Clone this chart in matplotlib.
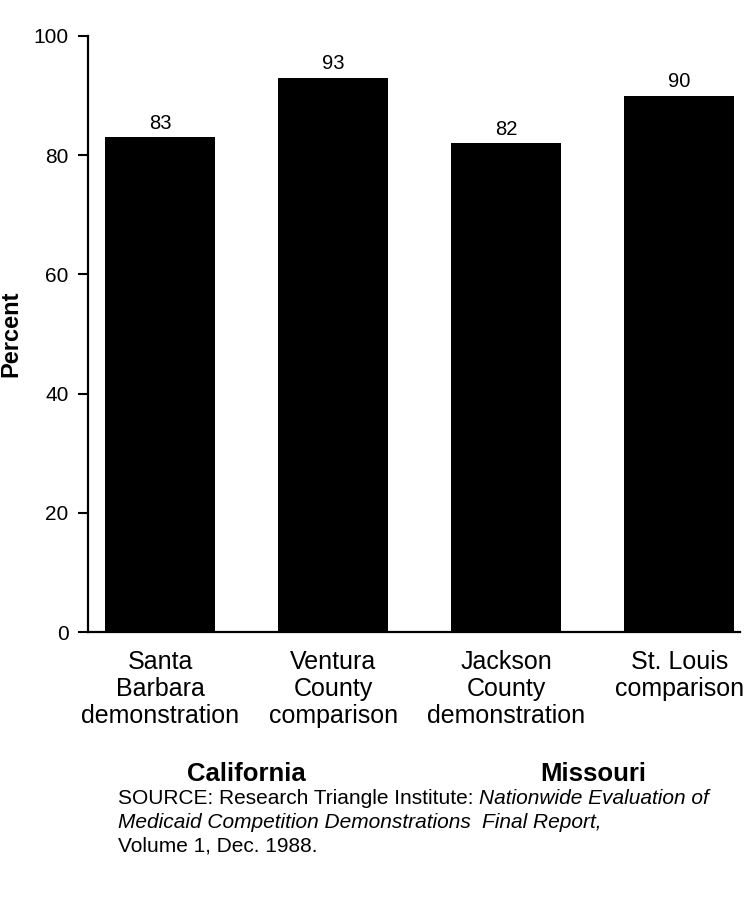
import matplotlib
matplotlib.use("Agg")
import matplotlib.pyplot as plt
import matplotlib.transforms as mtransforms

plt.rcParams['font.family'] = ['Liberation Sans', 'DejaVu Sans']

# Данные
categories = ["Santa\nBarbara\ndemonstration", "Ventura\nCounty\ncomparison",
              "Jackson\nCounty\ndemonstration", "St. Louis\ncomparison"]
percent = [83, 93, 82, 90]
bar_labels = ["83", "93", "82", "90"]
states = ["California", "Missouri"]
state_groups = [(0, 1), (2, 3)]
yticks = [0, 20, 40, 60, 80, 100]

fig = plt.figure(figsize=(7.55, 9.02), dpi=100)
ax = fig.add_axes([0.1166, 0.2993, 0.8636, 0.6608])

x = list(range(len(categories)))
ax.bar(x, percent, width=0.635, color='black')

for xi, v, lab in zip(x, percent, bar_labels):
    ax.text(xi, v + 0.8, lab, ha='center', va='bottom', fontsize=14.5)

ax.set_xlim(-0.416, 3.35)
ax.set_ylim(0, 100)
ax.set_yticks(yticks)
ax.set_xticks(x)
ax.set_xticklabels(categories, fontsize=18, linespacing=1.15)
ax.tick_params(axis='x', length=0, pad=13)
ax.tick_params(axis='y', length=7, width=1.5, direction='out', pad=7, labelsize=15)

for s in ['top', 'right']:
    ax.spines[s].set_visible(False)
ax.spines['left'].set_linewidth(1.6)
ax.spines['bottom'].set_linewidth(1.6)

ax.set_ylabel("Percent", fontsize=17, fontweight='bold')
ax.yaxis.set_label_coords((22 - 88) / 652, 0.5)

# Подписи штатов
trans = mtransforms.blended_transform_factory(ax.transData, fig.transFigure)
for name, (a, b) in zip(states, state_groups):
    ax.text((a + b) / 2, 1 - 774 / 902, name, transform=trans, ha='center', va='center',
            fontsize=18.5, fontweight='bold')

# Источник
fy = 1 - 799 / 902
fx = 118 / 755
fs = 15
t1 = fig.text(fx, fy, "SOURCE: Research Triangle Institute: ", fontsize=fs, va='center')
fig.canvas.draw()
r = fig.canvas.get_renderer()
bb = t1.get_window_extent(r)
fig.text(bb.x1 / fig.bbox.width, fy, "Nationwide Evaluation of", fontsize=fs, va='center', style='italic')
t2 = fig.text(fx, fy - 24 / 902, "Medicaid Competition Demonstrations  ", fontsize=fs, va='center', style='italic')
bb2 = t2.get_window_extent(r)
fig.text(bb2.x1 / fig.bbox.width, fy - 24 / 902, "Final Report,", fontsize=fs, va='center', style='italic')
fig.text(fx, fy - 47 / 902, "Volume 1, Dec. 1988.", fontsize=fs, va='center')

fig.savefig("out.png", dpi=100)
